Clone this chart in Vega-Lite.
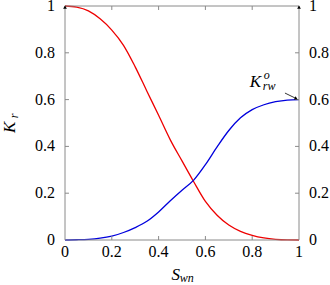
{
  "$schema": "https://vega.github.io/schema/vega-lite/v6.json",
  "autosize": "none",
  "width": 234,
  "height": 234,
  "padding": {"left": 65, "top": 6, "right": 31, "bottom": 45},
  "config": {"view": {"stroke": null}},
  "layer": [
    {
      "data": {"values": [
        {"s": 0, "kr": 1, "phase": "n"}, {"s": 0.05, "kr": 0.995, "phase": "n"}, {"s": 0.1, "kr": 0.979, "phase": "n"},
        {"s": 0.15, "kr": 0.945, "phase": "n"}, {"s": 0.2, "kr": 0.897, "phase": "n"}, {"s": 0.25, "kr": 0.832, "phase": "n"},
        {"s": 0.3, "kr": 0.74, "phase": "n"}, {"s": 0.35, "kr": 0.636, "phase": "n"}, {"s": 0.4, "kr": 0.533, "phase": "n"},
        {"s": 0.45, "kr": 0.428, "phase": "n"}, {"s": 0.5, "kr": 0.338, "phase": "n"}, {"s": 0.55, "kr": 0.249, "phase": "n"},
        {"s": 0.6, "kr": 0.165, "phase": "n"}, {"s": 0.65, "kr": 0.106, "phase": "n"}, {"s": 0.7, "kr": 0.064, "phase": "n"},
        {"s": 0.75, "kr": 0.037, "phase": "n"}, {"s": 0.8, "kr": 0.02, "phase": "n"}, {"s": 0.85, "kr": 0.009, "phase": "n"},
        {"s": 0.9, "kr": 0.003, "phase": "n"}, {"s": 0.95, "kr": 0.0005, "phase": "n"}, {"s": 1, "kr": 0, "phase": "n"},
        {"s": 0, "kr": 0, "phase": "w"}, {"s": 0.05, "kr": 0.001, "phase": "w"}, {"s": 0.1, "kr": 0.003, "phase": "w"},
        {"s": 0.15, "kr": 0.008, "phase": "w"}, {"s": 0.2, "kr": 0.017, "phase": "w"}, {"s": 0.25, "kr": 0.032, "phase": "w"},
        {"s": 0.3, "kr": 0.053, "phase": "w"}, {"s": 0.35, "kr": 0.08, "phase": "w"}, {"s": 0.4, "kr": 0.12, "phase": "w"},
        {"s": 0.45, "kr": 0.168, "phase": "w"}, {"s": 0.5, "kr": 0.213, "phase": "w"}, {"s": 0.55, "kr": 0.256, "phase": "w"},
        {"s": 0.6, "kr": 0.322, "phase": "w"}, {"s": 0.65, "kr": 0.398, "phase": "w"}, {"s": 0.7, "kr": 0.468, "phase": "w"},
        {"s": 0.75, "kr": 0.522, "phase": "w"}, {"s": 0.8, "kr": 0.557, "phase": "w"}, {"s": 0.85, "kr": 0.578, "phase": "w"},
        {"s": 0.9, "kr": 0.591, "phase": "w"}, {"s": 0.95, "kr": 0.598, "phase": "w"}, {"s": 1, "kr": 0.6, "phase": "w"}
      ]},
      "mark": {"type": "line", "interpolate": "monotone", "strokeWidth": 1.3},
      "encoding": {
        "x": {"field": "s", "type": "quantitative", "scale": {"domain": [0, 1], "nice": false}, "axis": null},
        "y": {"field": "kr", "type": "quantitative", "scale": {"domain": [0, 1], "nice": false}, "axis": null},
        "color": {"field": "phase", "type": "nominal", "scale": {"domain": ["n", "w"], "range": ["#ee0000", "#0000dd"]}, "legend": null}
      }
    },
    {
      "data": {"values": [{}]},
      "mark": {"type": "rule", "color": "#8a8a8a", "strokeWidth": 1},
      "encoding": {
        "x": {"datum": 0, "type": "quantitative", "axis": null},
        "x2": {"datum": 1},
        "y": {"datum": 1, "type": "quantitative", "axis": null}
      }
    },
    {
      "data": {"values": [{}]},
      "mark": {"type": "rule", "color": "#8a8a8a", "strokeWidth": 1},
      "encoding": {
        "x": {"datum": 0, "type": "quantitative", "axis": null},
        "x2": {"datum": 1},
        "y": {"datum": 0, "type": "quantitative", "axis": null}
      }
    },
    {
      "data": {"values": [{}]},
      "mark": {"type": "rule", "color": "#8a8a8a", "strokeWidth": 1},
      "encoding": {
        "x": {"datum": 1, "type": "quantitative", "axis": null},
        "y": {"datum": 0, "type": "quantitative", "axis": null},
        "y2": {"datum": 1}
      }
    },
    {
      "data": {"values": [{}]},
      "mark": {"type": "rule", "color": "#8a8a8a", "strokeWidth": 1},
      "encoding": {
        "x": {"datum": 0, "type": "quantitative", "axis": null},
        "y": {"datum": 0, "type": "quantitative", "axis": null},
        "y2": {"datum": 1}
      }
    },
    {
      "data": {"values": [{"t": 0.2}, {"t": 0.4}, {"t": 0.6}, {"t": 0.8}]},
      "mark": {"type": "rule", "color": "#8a8a8a", "strokeWidth": 1},
      "encoding": {
        "x": {"field": "t", "type": "quantitative", "axis": null},
        "y": {"datum": 0, "type": "quantitative", "axis": null},
        "y2": {"datum": 0.017}
      }
    },
    {
      "data": {"values": [{"t": 0.2}, {"t": 0.4}, {"t": 0.6}, {"t": 0.8}]},
      "mark": {"type": "rule", "color": "#8a8a8a", "strokeWidth": 1},
      "encoding": {
        "x": {"field": "t", "type": "quantitative", "axis": null},
        "y": {"datum": 1, "type": "quantitative", "axis": null},
        "y2": {"datum": 0.983}
      }
    },
    {
      "data": {"values": [{"t": 0.2}, {"t": 0.4}, {"t": 0.6}, {"t": 0.8}]},
      "mark": {"type": "rule", "color": "#8a8a8a", "strokeWidth": 1},
      "encoding": {
        "y": {"field": "t", "type": "quantitative", "axis": null},
        "x": {"datum": 0, "type": "quantitative", "axis": null},
        "x2": {"datum": 0.017}
      }
    },
    {
      "data": {"values": [{"t": 0.2}, {"t": 0.4}, {"t": 0.6}, {"t": 0.8}]},
      "mark": {"type": "rule", "color": "#8a8a8a", "strokeWidth": 1},
      "encoding": {
        "y": {"field": "t", "type": "quantitative", "axis": null},
        "x": {"datum": 1, "type": "quantitative", "axis": null},
        "x2": {"datum": 0.983}
      }
    },
    {
      "data": {"values": [{"t": 0}, {"t": 0.2}, {"t": 0.4}, {"t": 0.6}, {"t": 0.8}, {"t": 1}]},
      "mark": {"type": "text", "font": "Liberation Serif", "fontSize": 16, "color": "#000", "align": "left", "baseline": "middle", "dx": 10},
      "encoding": {
        "y": {"field": "t", "type": "quantitative", "axis": null},
        "x": {"datum": 1, "type": "quantitative", "axis": null},
        "text": {"field": "t", "type": "quantitative", "format": "~g"}
      }
    },
    {
      "data": {"values": [{"t": 0}, {"t": 0.2}, {"t": 0.4}, {"t": 0.6}, {"t": 0.8}, {"t": 1}]},
      "mark": {"type": "text", "font": "Liberation Serif", "fontSize": 16, "color": "#000", "align": "right", "baseline": "middle", "dx": -10},
      "encoding": {
        "y": {"field": "t", "type": "quantitative", "axis": null},
        "x": {"datum": 0, "type": "quantitative", "axis": null},
        "text": {"field": "t", "type": "quantitative", "format": "~g"}
      }
    },
    {
      "data": {"values": [{"t": 0}, {"t": 0.2}, {"t": 0.4}, {"t": 0.6}, {"t": 0.8}, {"t": 1}]},
      "mark": {"type": "text", "font": "Liberation Serif", "fontSize": 16, "color": "#000", "align": "center", "baseline": "top", "dy": 4},
      "encoding": {
        "x": {"field": "t", "type": "quantitative", "axis": null},
        "y": {"datum": 0, "type": "quantitative", "axis": null},
        "text": {"field": "t", "type": "quantitative", "format": "~g"}
      }
    },
    {
      "data": {"values": [{}]},
      "mark": {"type": "point", "shape": "triangle-up", "filled": true, "size": 14, "color": "#000", "opacity": 1},
      "encoding": {
        "x": {"datum": 0, "type": "quantitative", "axis": null},
        "y": {"datum": 0.995, "type": "quantitative", "axis": null}
      }
    },
    {
      "data": {"values": [{}]},
      "mark": {"type": "point", "shape": "triangle-up", "filled": true, "size": 14, "color": "#000", "opacity": 1},
      "encoding": {
        "x": {"datum": 1, "type": "quantitative", "axis": null},
        "y": {"datum": 0.995, "type": "quantitative", "axis": null}
      }
    },
    {
      "data": {"values": [{}]},
      "mark": {"type": "rule", "color": "#000", "strokeWidth": 0.8},
      "encoding": {
        "x": {"datum": 0.94, "type": "quantitative", "axis": null},
        "y": {"datum": 0.628, "type": "quantitative", "axis": null},
        "x2": {"datum": 0.985},
        "y2": {"datum": 0.606}
      }
    },
    {
      "data": {"values": [{}]},
      "mark": {"type": "point", "shape": "triangle-right", "angle": 27, "filled": true, "size": 14, "color": "#000", "opacity": 1},
      "encoding": {
        "x": {"datum": 0.988, "type": "quantitative", "axis": null},
        "y": {"datum": 0.604, "type": "quantitative", "axis": null}
      }
    },
    {
      "data": {"values": [{}]},
      "mark": {"type": "text", "text": "K", "font": "Liberation Serif", "fontStyle": "italic", "fontSize": 17, "align": "left", "baseline": "alphabetic", "color": "#000"},
      "encoding": {
        "x": {"datum": 0.79, "type": "quantitative", "axis": null},
        "y": {"datum": 0.654, "type": "quantitative", "axis": null}
      }
    },
    {
      "data": {"values": [{}]},
      "mark": {"type": "text", "text": "o", "font": "Liberation Serif", "fontStyle": "italic", "fontSize": 12, "align": "left", "baseline": "alphabetic", "color": "#000"},
      "encoding": {
        "x": {"datum": 0.849, "type": "quantitative", "axis": null},
        "y": {"datum": 0.69, "type": "quantitative", "axis": null}
      }
    },
    {
      "data": {"values": [{}]},
      "mark": {"type": "text", "text": "rw", "font": "Liberation Serif", "fontStyle": "italic", "fontSize": 12, "align": "left", "baseline": "alphabetic", "color": "#000"},
      "encoding": {
        "x": {"datum": 0.845, "type": "quantitative", "axis": null},
        "y": {"datum": 0.641, "type": "quantitative", "axis": null}
      }
    },
    {
      "data": {"values": [{}]},
      "mark": {"type": "text", "text": "S", "font": "Liberation Serif", "fontStyle": "italic", "fontSize": 17, "align": "left", "baseline": "alphabetic", "color": "#000"},
      "encoding": {
        "x": {"datum": 0.455, "type": "quantitative", "axis": null},
        "y": {"datum": -0.171, "type": "quantitative", "axis": null}
      }
    },
    {
      "data": {"values": [{}]},
      "mark": {"type": "text", "text": "wn", "font": "Liberation Serif", "fontStyle": "italic", "fontSize": 12, "align": "left", "baseline": "alphabetic", "color": "#000"},
      "encoding": {
        "x": {"datum": 0.49, "type": "quantitative", "axis": null},
        "y": {"datum": -0.18, "type": "quantitative", "axis": null}
      }
    },
    {
      "data": {"values": [{}]},
      "mark": {"type": "text", "text": "K", "font": "Liberation Serif", "fontStyle": "italic", "fontSize": 17, "align": "left", "baseline": "alphabetic", "angle": 270, "color": "#000"},
      "encoding": {
        "x": {"datum": -0.214, "type": "quantitative", "axis": null},
        "y": {"datum": 0.457, "type": "quantitative", "axis": null}
      }
    },
    {
      "data": {"values": [{}]},
      "mark": {"type": "text", "text": "r", "font": "Liberation Serif", "fontStyle": "italic", "fontSize": 12, "align": "left", "baseline": "alphabetic", "angle": 270, "color": "#000"},
      "encoding": {
        "x": {"datum": -0.202, "type": "quantitative", "axis": null},
        "y": {"datum": 0.52, "type": "quantitative", "axis": null}
      }
    }
  ]
}
